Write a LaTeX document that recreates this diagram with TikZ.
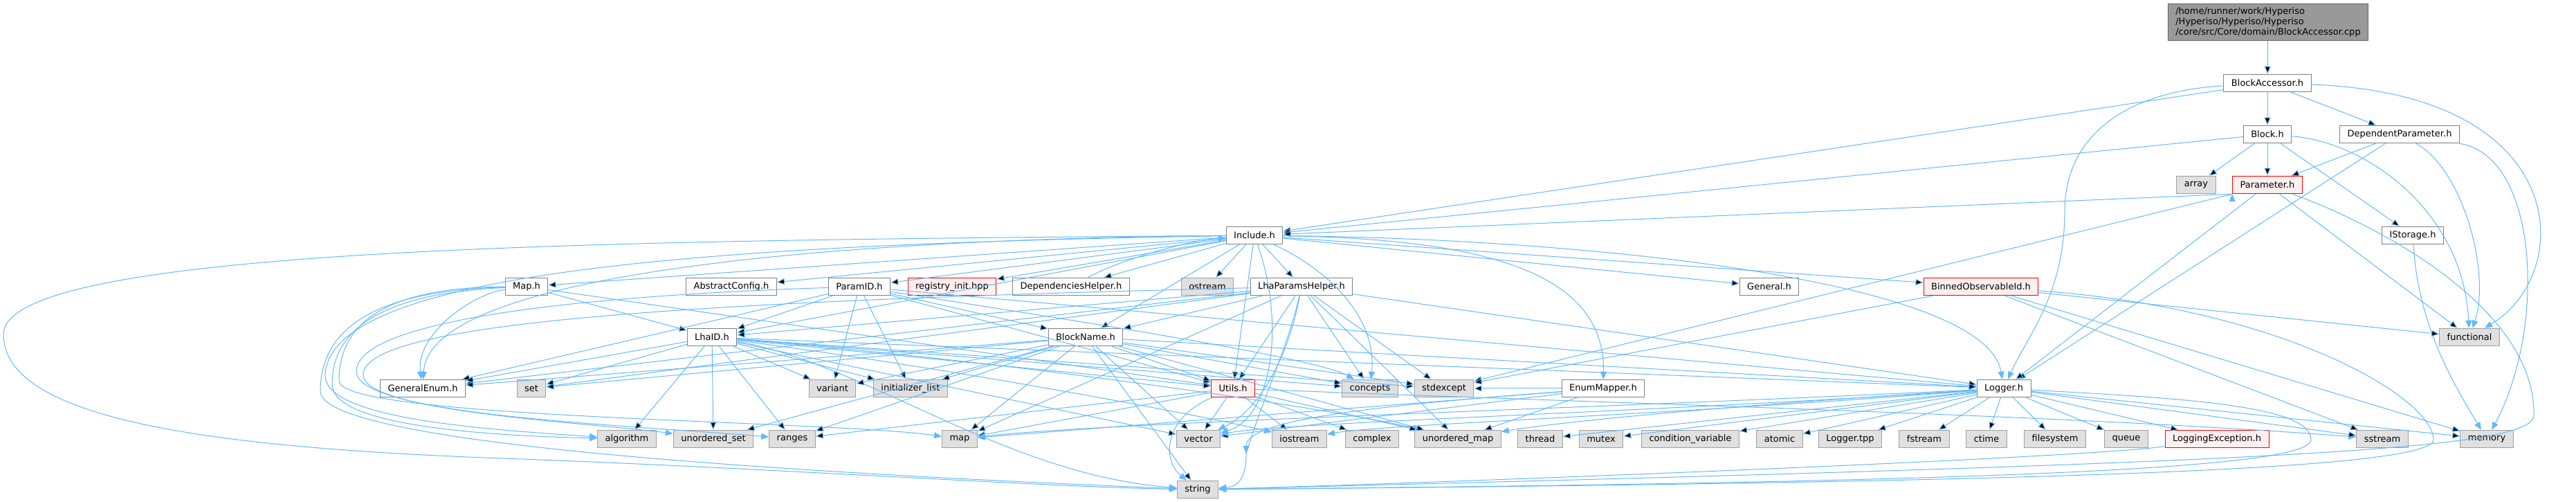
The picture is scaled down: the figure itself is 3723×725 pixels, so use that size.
\documentclass[tikz,border=0pt]{standalone}
\usepackage{fontspec}
\setmainfont{DejaVu Sans}
\usetikzlibrary{arrows.meta}

\definecolor{EdgeBlue}{HTML}{63B8FF}
\definecolor{HdrBorder}{HTML}{808080}
\definecolor{SysBorder}{HTML}{A0A0A0}
\definecolor{SysFill}{HTML}{E0E0E0}
\definecolor{TruncFill}{HTML}{FFF0F0}
\definecolor{RootFill}{HTML}{999999}
\definecolor{RootBorder}{HTML}{666666}

\tikzset{
  hdr/.style={draw=HdrBorder,fill=white,line width=1pt,minimum height=25.5pt,
              inner xsep=11pt,inner ysep=2pt,font=\fontsize{13}{15}\selectfont},
  sys/.style={hdr,draw=SysBorder,fill=SysFill},
  trunc/.style={hdr,draw=red,fill=TruncFill},
  rootfile/.style={hdr,draw=RootBorder,fill=RootFill,align=left,inner ysep=5pt},
  dep/.style={draw=EdgeBlue,line width=1pt,-{Triangle[length=11pt,width=9pt]}}
}

\begin{document}
\begin{tikzpicture}[x=1pt,y=1pt]
  \useasboundingbox (0,0) rectangle (3723,725);

  % file and the headers it pulls in
  \node[rootfile] (BlockAccessorCpp) at (3278,693) {/home/runner/work/Hyperiso\\/Hyperiso/Hyperiso/Hyperiso\\/core/src/Core/domain/BlockAccessor.cpp};
  \node[hdr]   (BlockAccessor)      at (3277,605) {BlockAccessor.h};
  \node[hdr]   (Block)              at (3277,531) {Block.h};
  \node[hdr]   (DependentParameter) at (3468,531) {DependentParameter.h};
  \node[sys]   (Array)              at (3174,458) {array};
  \node[trunc] (Parameter)          at (3277,458) {Parameter.h};
  \node[hdr]   (IStorage)           at (3487,385) {IStorage.h};
  \node[hdr]   (Include)            at (1813,385) {Include.h};

  \node[hdr]   (Map)                at (761,311)  {Map.h};
  \node[hdr]   (AbstractConfig)     at (1057,311) {AbstractConfig.h};
  \node[hdr]   (ParamID)            at (1242,311) {ParamID.h};
  \node[trunc] (RegistryInit)       at (1376,311) {registry\_init.hpp};
  \node[hdr]   (DependenciesHelper) at (1548,311) {DependenciesHelper.h};
  \node[sys]   (Ostream)            at (1745,311) {ostream};
  \node[hdr]   (LhaParamsHelper)    at (1881,311) {LhaParamsHelper.h};
  \node[hdr]   (General)            at (2557,311) {General.h};
  \node[trunc] (BinnedObservableId) at (2863,311) {BinnedObservableId.h};

  \node[hdr]   (LhaID)              at (1029,238) {LhaID.h};
  \node[hdr]   (BlockName)          at (1569,238) {BlockName.h};
  \node[sys]   (Functional)         at (3569,238) {functional};

  \node[hdr]   (GeneralEnum)        at (611,164)  {GeneralEnum.h};
  \node[sys]   (Set)                at (768,164)  {set};
  \node[sys]   (Variant)            at (1203,164) {variant};
  \node[sys]   (InitializerList)    at (1316,164) {initializer\_list};
  \node[trunc] (Utils)              at (1782,164) {Utils.h};
  \node[sys]   (Concepts)           at (1980,164) {concepts};
  \node[sys]   (Stdexcept)          at (2087,164) {stdexcept};
  \node[hdr]   (EnumMapper)         at (2317,164) {EnumMapper.h};
  \node[hdr]   (Logger)             at (2896,164) {Logger.h};

  % standard headers
  \node[sys]   (Algorithm)          at (906,91)   {algorithm};
  \node[sys]   (UnorderedSet)       at (1031,91)  {unordered\_set};
  \node[sys]   (Ranges)             at (1145,91)  {ranges};
  \node[sys]   (StdMap)             at (1387,91)  {map};
  \node[sys]   (Vector)             at (1732,91)  {vector};
  \node[sys]   (Iostream)           at (1878,91)  {iostream};
  \node[sys]   (Complex)            at (1983,91)  {complex};
  \node[sys]   (UnorderedMap)       at (2107,91)  {unordered\_map};
  \node[sys]   (Thread)             at (2226,91)  {thread};
  \node[sys]   (Mutex)              at (2314,91)  {mutex};
  \node[sys]   (ConditionVariable)  at (2443,91)  {condition\_variable};
  \node[sys]   (Atomic)             at (2572,91)  {atomic};
  \node[sys]   (LoggerTpp)          at (2674,91)  {Logger.tpp};
  \node[sys]   (Fstream)            at (2781,91)  {fstream};
  \node[sys]   (Ctime)              at (2871,91)  {ctime};
  \node[sys]   (Filesystem)         at (2970,91)  {filesystem};
  \node[sys]   (Queue)              at (3073,91)  {queue};
  \node[trunc] (LoggingException)   at (3204,91)  {LoggingException.h};
  \node[sys]   (Sstream)            at (3443,91)  {sstream};
  \node[sys]   (Memory)             at (3594,91)  {memory};
  \node[sys]   (String)             at (1731,18)  {string};

  \coordinate (LoopWest)  at (5,242);
  \coordinate (LoopSouth) at (700,64);
  \coordinate (EnumWest)  at (470,185);
  \coordinate (GapRight)  at (2984,420);
  \coordinate (GapVec)    at (1801,70);
  \coordinate (GapLog)    at (3340,90);
  \coordinate (GapMem)    at (3517,90);
  \coordinate (EastBend)  at (3662,125);

  \path[dep] (BlockAccessorCpp) edge (BlockAccessor);
  \path[dep] (BlockAccessor) edge (Include)
                             edge (Block)
                             edge (DependentParameter);
  \draw[dep] (BlockAccessor) .. controls (3720,590) and (3722,330) .. (Functional);
  \draw[dep] (BlockAccessor) .. controls (3060,592) and (2984,520) .. (GapRight)
                             .. controls (2984,300) and (2930,240) .. (Logger);
  \path[dep] (Block) edge (Include)
                     edge (Array)
                     edge (Parameter)
                     edge (IStorage);
  \draw[dep] (Block) .. controls (3420,520) and (3560,420) .. (Functional);
  \path[dep] (DependentParameter) edge (Parameter)
                                  edge (Logger);
  \draw[dep] (DependentParameter) .. controls (3560,480) and (3600,330) .. (Functional);
  \draw[dep] (DependentParameter) .. controls (3670,500) and (3680,250) .. (Memory);
  \path[dep] (Parameter.south west) edge (Include)
                                    edge (Stdexcept);
  \path[dep] (Parameter) edge (Logger)
                         edge (Functional);
  \draw[dep] (Parameter) .. controls (3450,395) and (3665,275) .. (EastBend)
                         .. controls (3660,75) and (3300,57) .. (String);
  \draw[dep] (IStorage) .. controls (3495,260) and (3540,180) .. (Memory);

  \path[dep] (Include) edge (Map)
                       edge (AbstractConfig)
                       edge (ParamID)
                       edge (RegistryInit)
                       edge (DependenciesHelper)
                       edge (Ostream)
                       edge (LhaParamsHelper)
                       edge (General)
                       edge (BinnedObservableId)
                       edge (LhaID)
                       edge (BlockName)
                       edge (Utils);
  \draw[dep] (Include) .. controls (1200,380) and (620,330) .. (GeneralEnum);
  \draw[dep] (Include) .. controls (1930,330) and (1990,260) .. (Concepts);
  \draw[dep] (Include) .. controls (2150,380) and (2320,330) .. (EnumMapper);
  \draw[dep] (Include) .. controls (2300,380) and (2870,320) .. (Logger);
  \draw[dep] (Include) .. controls (1860,250) and (1835,120) .. (Vector);
  \draw[dep] (Include) .. controls (900,378) and (5,370) .. (LoopWest)
                       .. controls (5,120) and (300,80) .. (LoopSouth)
                       .. controls (1100,50) and (1500,22) .. (String);
  \draw[dep] (Include) .. controls (1000,372) and (480,330) .. (EnumWest)
                       .. controls (465,120) and (700,105) .. (Algorithm);
  \draw[dep] (DependenciesHelper) .. controls (1610,345) and (1700,375) .. (Include);

  \draw[dep] (Map) .. controls (680,300) and (600,240) .. (GeneralEnum);
  \path[dep] (Map) edge (LhaID)
                   edge (Utils);
  \draw[dep] (Map) .. controls (520,300) and (480,230) .. (480,170)
                   .. controls (480,110) and (700,96) .. (Algorithm);
  \draw[dep] (Map) .. controls (530,310) and (490,240) .. (490,175)
                   .. controls (490,120) and (1200,118) .. (StdMap);
  \draw[dep] (Map) .. controls (510,305) and (463,230) .. (463,160)
                   .. controls (463,80) and (1200,40) .. (String);

  \path[dep] (ParamID) edge (LhaID)
                       edge (BlockName)
                       edge (Variant)
                       edge (InitializerList)
                       edge (GeneralEnum)
                       edge (Utils)
                       edge (Logger);
  \draw[dep] (ParamID) .. controls (1500,270) and (1900,210) .. (Concepts);
  \draw[dep] (ParamID) .. controls (900,300) and (520,270) .. (515,190)
                       .. controls (510,125) and (900,112) .. (Ranges);

  \path[dep] (LhaParamsHelper) edge (BlockName)
                               edge (Utils)
                               edge (Concepts)
                               edge (Stdexcept)
                               edge (Logger)
                               edge (LhaID)
                               edge (Set)
                               edge (GeneralEnum)
                               edge (StdMap)
                               edge (UnorderedMap);
  \draw[dep] (LhaParamsHelper) .. controls (1860,200) and (1815,130) .. (Vector);
  \draw[dep] (LhaParamsHelper) .. controls (1860,220) and (1825,150) .. (GapVec)
                               .. controls (1801,35) and (1790,22) .. (String);
  \draw[dep] (LhaParamsHelper) .. controls (1000,290) and (530,260) .. (525,185)
                               .. controls (520,130) and (850,115) .. (UnorderedSet);

  \path[dep] (LhaID) edge (GeneralEnum)
                     edge (Set)
                     edge (Variant)
                     edge (InitializerList)
                     edge (Algorithm)
                     edge (UnorderedSet)
                     edge (Ranges)
                     edge (Vector)
                     edge (Concepts)
                     edge (Stdexcept)
                     edge (Utils)
                     edge (Logger);
  \draw[dep] (LhaID) .. controls (1250,200) and (1450,40) .. (String);
  \draw[dep] (LhaID) .. controls (1500,200) and (1950,130) .. (UnorderedMap);
  \draw[dep] (LhaID) .. controls (1400,190) and (1760,120) .. (Iostream);

  \path[dep] (BlockName) edge (Variant)
                         edge (InitializerList)
                         edge (Set)
                         edge (GeneralEnum)
                         edge (Utils)
                         edge (StdMap)
                         edge (Vector)
                         edge (String)
                         edge (Concepts)
                         edge (Stdexcept)
                         edge (Ranges)
                         edge (UnorderedSet)
                         edge (Logger)
                         edge (UnorderedMap);

  \path[dep] (BinnedObservableId) edge (Functional)
                                  edge (Memory)
                                  edge (Stdexcept)
                                  edge (Sstream);
  \draw[dep] (BinnedObservableId) .. controls (3300,280) and (3517,150) .. (GapMem)
                                  .. controls (3517,45) and (2900,28) .. (String);

  \path[dep] (Utils) edge (Vector)
                     edge (StdMap)
                     edge (Ranges)
                     edge (Iostream)
                     edge (Complex)
                     edge (UnorderedMap);
  \draw[dep] (Utils) .. controls (1680,120) and (1680,60) .. (String);
  \draw[dep] (Utils) .. controls (2400,140) and (3000,125) .. (Sstream);

  \path[dep] (EnumMapper) edge (StdMap)
                          edge (Vector)
                          edge (UnorderedMap)
                          edge (Stdexcept);
  \draw[dep] (EnumMapper) .. controls (2000,140) and (1801,120) .. (GapVec);

  \path[dep] (Logger) edge (Thread)
                      edge (Mutex)
                      edge (ConditionVariable)
                      edge (Atomic)
                      edge (LoggerTpp)
                      edge (Fstream)
                      edge (Ctime)
                      edge (Filesystem)
                      edge (Queue)
                      edge (LoggingException)
                      edge (Sstream)
                      edge (Memory);
  \draw[dep] (Logger) .. controls (2500,140) and (2250,115) .. (UnorderedMap);
  \draw[dep] (Logger) .. controls (2400,125) and (2000,112) .. (Iostream);
  \draw[dep] (Logger) .. controls (2400,130) and (1850,115) .. (Vector);
  \draw[dep] (Logger) .. controls (2300,135) and (1600,115) .. (StdMap);
  \draw[dep] (Logger) .. controls (3150,150) and (3340,140) .. (GapLog)
                      .. controls (3340,45) and (2800,28) .. (String);
  \draw[dep] (LoggingException) .. controls (3000,62) and (2000,25) .. (String);
\end{tikzpicture}
\end{document}
